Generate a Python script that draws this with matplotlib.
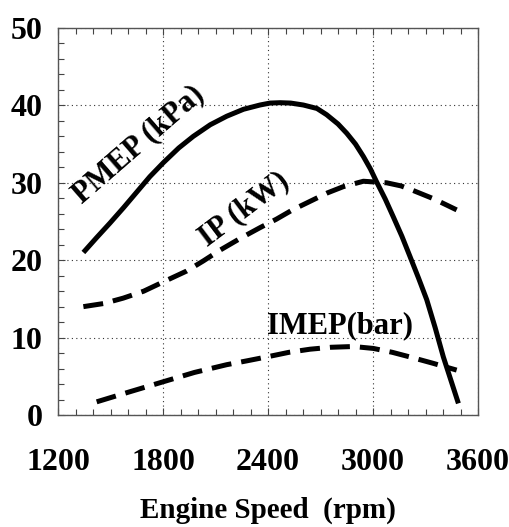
import matplotlib
matplotlib.use("Agg")
import matplotlib.pyplot as plt
from matplotlib.ticker import MultipleLocator

# Data
pmep_rpm = [1345, 1420, 1497, 1575, 1650, 1725, 1802, 1890, 1973, 2070, 2164, 2260, 2354, 2411, 2469, 2530, 2602, 2680, 2735, 2800, 2850, 2900, 2945, 2985, 3021, 3070, 3116, 3165, 3211, 3260, 3307, 3355, 3402, 3445, 3488]
pmep_val = [21.0, 22.9, 24.8, 26.8, 28.8, 30.8, 32.6, 34.5, 36.0, 37.5, 38.6, 39.5, 40.05, 40.3, 40.35, 40.3, 40.05, 39.6, 38.8, 37.6, 36.4, 35.0, 33.4, 31.8, 30.1, 27.9, 25.6, 23.1, 20.5, 17.7, 14.9, 11.3, 7.5, 4.5, 1.5]

ip_rpm = [1345, 1460, 1573, 1690, 1802, 1935, 2030, 2126, 2240, 2354, 2448, 2540, 2640, 2740, 2830, 2945, 3078, 3160, 3230, 3350, 3478]
ip_val = [14.0, 14.4, 15.1, 16.0, 17.2, 18.6, 19.9, 21.3, 22.8, 24.2, 25.3, 26.5, 27.6, 28.7, 29.5, 30.2, 30.0, 29.6, 29.0, 27.9, 26.5]

imep_rpm = [1421, 1610, 1802, 1980, 2164, 2280, 2392, 2520, 2640, 2760, 2888, 3002, 3110, 3211, 3340, 3478]
imep_val = [1.7, 3.0, 4.3, 5.5, 6.5, 7.0, 7.5, 8.1, 8.5, 8.75, 8.85, 8.6, 8.1, 7.5, 6.7, 5.8]

x_ticks = [1200, 1800, 2400, 3000, 3600]
y_ticks = [0, 10, 20, 30, 40, 50]
x_label = "Engine Speed  (rpm)"

plt.rcParams['font.family'] = ['Liberation Serif', 'DejaVu Serif']
plt.rcParams['font.weight'] = 'bold'

fig = plt.figure(figsize=(5.1, 5.27), dpi=100)
ax = fig.add_axes([58/510, 112/527, 420/510, 387/527])

lw = 3.6
ax.plot(pmep_rpm, pmep_val, color='black', lw=lw, solid_capstyle='butt', solid_joinstyle='round')
ax.plot(ip_rpm, ip_val, color='black', lw=lw, dashes=(4.0, 2.0), dash_capstyle='butt')
ax.plot(imep_rpm, imep_val, color='black', lw=lw, dashes=(4.0, 2.0), dash_capstyle='butt')

ax.set_xlim(1200, 3600)
ax.set_ylim(0, 50)
ax.set_xticks(x_ticks)
ax.set_yticks(y_ticks)
ax.xaxis.set_minor_locator(MultipleLocator(100))
ax.yaxis.set_minor_locator(MultipleLocator(2))
ax.tick_params(which='both', direction='in', top=True, right=False, colors='#444444',
               labelcolor='black', labelsize=23, width=0.8)
ax.tick_params(which='major', length=5)
ax.tick_params(which='minor', length=4)
ax.tick_params(axis='x', which='major', pad=24)
ax.tick_params(axis='y', which='major', pad=11)
for lab in ax.get_xticklabels() + ax.get_yticklabels():
    lab.set_fontweight('bold')

ax.grid(True, which='major', linestyle=(0, (1, 3)), color='#333333', lw=0.8)
for s in ax.spines.values():
    s.set_color('#555555')
    s.set_linewidth(1.0)

ax.set_xlabel(x_label, fontsize=21, fontweight='bold', labelpad=14)

ax.text(1657, 35.0, "PMEP (kPa)", rotation=41, ha='center', va='center',
        fontsize=22, fontweight='bold', rotation_mode='anchor')
ax.text(2265, 26.6, "IP (kW)", rotation=37, ha='center', va='center',
        fontsize=22, fontweight='bold', rotation_mode='anchor')
ax.text(2811, 11.5, "IMEP(bar)", ha='center', va='center',
        fontsize=22, fontweight='bold')

fig.savefig("out.png", dpi=100)
